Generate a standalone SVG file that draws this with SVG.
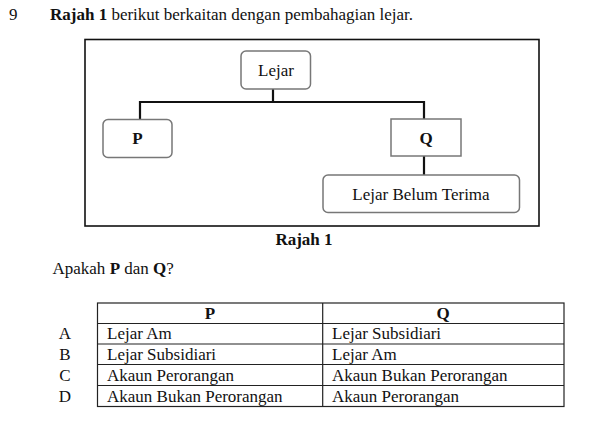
<svg xmlns="http://www.w3.org/2000/svg" width="598" height="421" viewBox="0 0 598 421">
<style>
text{font-family:"Liberation Serif","Times New Roman",serif;font-size:17px;fill:#111}
.b{font-weight:bold}
.box{fill:#fff;stroke:#777;stroke-width:1.5}
.con{stroke:#111;stroke-width:2.2;fill:none}
.tbl{stroke:#222;stroke-width:1.2;fill:none}
.tc{text-anchor:middle}
</style>
<rect width="598" height="421" fill="#fff"/>
<text x="9" y="20">9</text>
<text x="50" y="20"><tspan class="b">Rajah 1</tspan> berikut berkaitan dengan pembahagian lejar.</text>
<rect x="85" y="39.5" width="454" height="186.5" fill="none" stroke="#111" stroke-width="1.6"/>
<g id="connectors">
<path class="con" d="M273 89 V102 M140 102 H424 M140 101 V119 M424 101 V119 M424 156 V175"/>
</g>
<g id="lejar">
<rect class="box" x="241" y="51" width="69.5" height="38" rx="5"/>
<text x="276" y="76" class="tc">Lejar</text>
</g>
<g id="p">
<rect class="box" x="103" y="119.5" width="69" height="38" rx="5"/>
<text x="137.5" y="144" class="tc b">P</text>
</g>
<g id="q">
<rect class="box" x="391" y="119" width="70" height="37"/>
<text x="426" y="143.5" class="tc b">Q</text>
</g>
<g id="lbt">
<rect class="box" x="323" y="175" width="196.5" height="37.5" rx="5"/>
<text x="421" y="200" class="tc">Lejar Belum Terima</text>
</g>
<text x="304" y="245" class="tc b">Rajah 1</text>
<text x="52.5" y="273.5">Apakah <tspan class="b">P</tspan> dan <tspan class="b">Q</tspan>?</text>
<g id="table">
<rect class="tbl" x="97.5" y="303" width="466.5" height="103.5"/>
<path class="tbl" d="M322.7 303 V406.5 M97.5 323.5 H564 M97.5 344 H564 M97.5 364.5 H564 M97.5 385.5 H564"/>
<text x="210" y="318.5" class="tc b">P</text>
<text x="443" y="318.5" class="tc b">Q</text>
<text x="65" y="339" class="tc">A</text>
<text x="65" y="360" class="tc">B</text>
<text x="65" y="381" class="tc">C</text>
<text x="65" y="402" class="tc">D</text>
<text x="107" y="339">Lejar Am</text>
<text x="107" y="360">Lejar Subsidiari</text>
<text x="107" y="381">Akaun Perorangan</text>
<text x="107" y="402">Akaun Bukan Perorangan</text>
<text x="332" y="339">Lejar Subsidiari</text>
<text x="332" y="360">Lejar Am</text>
<text x="332" y="381">Akaun Bukan Perorangan</text>
<text x="332" y="402">Akaun Perorangan</text>
</g>
</svg>
